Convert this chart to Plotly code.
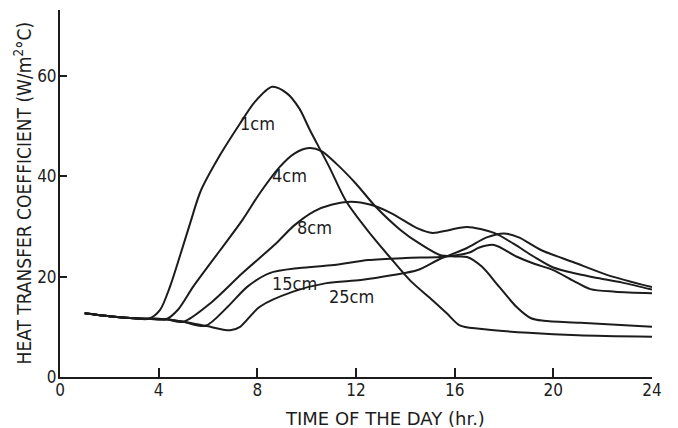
import plotly.graph_objects as go

# ---- data ----
x_1cm = [1.0, 2.0, 3.0, 3.6, 4.05, 4.46, 4.9, 5.3, 5.7, 6.5, 7.3, 7.9, 8.6, 9.2, 9.7, 10.13, 10.9, 11.6, 12.5, 13.4, 14.2, 15.1, 15.7, 16.2, 17.0, 19.0, 21.0, 24.0]
y_1cm = [12.7, 12.1, 11.7, 11.6, 13.3, 18.0, 24.7, 31.0, 37.0, 44.3, 50.5, 54.8, 57.8, 56.5, 53.5, 49.2, 42.0, 35.0, 29.0, 23.7, 19.2, 15.3, 12.6, 10.3, 9.6, 8.8, 8.3, 8.0]

x_4cm = [1.0, 2.0, 3.0, 3.6, 4.3, 4.8, 5.4, 6.5, 7.4, 8.1, 8.9, 9.5, 10.1, 10.6, 11.2, 12.0, 12.8, 13.8, 14.6, 15.4, 16.0, 16.5, 17.1, 17.8, 18.5, 19.1, 19.6, 21.1, 24.0]
y_4cm = [12.7, 12.1, 11.7, 11.6, 11.5, 13.5, 18.0, 25.3, 31.3, 36.6, 41.8, 44.5, 45.6, 45.0, 42.5, 38.5, 33.9, 29.3, 26.5, 24.3, 24.0, 23.9, 22.0, 18.0, 14.0, 11.7, 11.2, 10.8, 10.0]

x_8cm = [1.0, 2.0, 3.0, 3.6, 4.3, 5.0, 6.1, 7.4, 8.8, 9.45, 10.3, 11.0, 11.8, 12.6, 13.4, 14.5, 15.1, 15.8, 16.5, 17.6, 18.4, 19.2, 20.0, 21.0, 21.8, 22.8, 24.0]
y_8cm = [12.7, 12.1, 11.7, 11.6, 11.5, 11.0, 14.7, 20.7, 26.8, 30.0, 33.0, 34.3, 34.9, 34.3, 32.7, 29.6, 28.7, 29.3, 29.9, 28.7, 26.5, 24.0, 21.8, 20.5, 19.7, 18.8, 17.4]

x_15cm = [1.0, 2.0, 3.0, 3.6, 4.3, 5.0, 5.9, 6.8, 7.6, 8.5, 9.7, 11.1, 12.5, 14.0, 15.4, 16.0, 16.6, 17.0, 17.6, 18.5, 19.2, 20.0, 20.8, 21.5, 22.5, 24.0]
y_15cm = [12.7, 12.1, 11.7, 11.6, 11.5, 11.0, 10.2, 14.0, 18.0, 20.7, 21.7, 22.3, 23.3, 23.7, 23.9, 24.2, 24.8, 25.8, 26.3, 24.0, 22.6, 21.3, 19.2, 17.5, 17.0, 16.7]

x_25cm = [1.0, 2.0, 3.0, 3.6, 4.3, 5.0, 5.9, 6.9, 7.3, 8.1, 9.45, 10.8, 12.2, 13.5, 14.5, 15.4, 16.5, 17.3, 18.0, 18.6, 19.5, 20.8, 22.2, 24.0]
y_25cm = [12.7, 12.1, 11.7, 11.6, 11.5, 11.0, 10.2, 9.3, 10.0, 14.0, 17.0, 18.7, 19.3, 20.3, 21.3, 23.5, 25.7, 27.8, 28.6, 27.8, 25.3, 22.9, 20.3, 17.9]

series_names = ["1cm", "4cm", "8cm", "15cm", "25cm"]
label_x = [8.0, 9.3, 10.3, 9.5, 11.8]
label_y = [50.5, 40.2, 29.7, 18.7, 16.0]

x_ticks = [0, 4, 8, 12, 16, 20, 24]
y_ticks = [0, 20, 40, 60]

INK = "#1c1c1c"
FONT = "DejaVu Sans Condensed, Liberation Sans Narrow, sans-serif"
WIDE = "DejaVu Sans, sans-serif"

fig = go.Figure()
for xs, ys, nm in zip([x_1cm, x_4cm, x_8cm, x_15cm, x_25cm],
                      [y_1cm, y_4cm, y_8cm, y_15cm, y_25cm], series_names):
    fig.add_trace(go.Scatter(x=xs, y=ys, mode="lines", name=nm,
                             line=dict(color=INK, width=2, shape="spline", smoothing=0.8),
                             showlegend=False, hoverinfo="skip"))

for nm, lx, ly in zip(series_names, label_x, label_y):
    fig.add_annotation(x=lx, y=ly, text=nm, showarrow=False,
                       font=dict(family=FONT, size=18, color=INK))

fig.add_annotation(xref="paper", yref="paper", x=0.549, y=-0.112, yanchor="middle",
                   text="TIME OF THE DAY (hr.)", showarrow=False,
                   font=dict(family=WIDE, size=18, color=INK))
fig.add_annotation(xref="paper", yref="paper", x=-0.062, y=0.501, xanchor="center",
                   yanchor="middle", textangle=-90,
                   text="HEAT TRANSFER COEFFICIENT (W/m<sup>2</sup>°C)", showarrow=False,
                   font=dict(family=FONT, size=19, color=INK))

fig.update_xaxes(range=[0, 24], tickvals=x_ticks, ticks="inside", ticklen=9, tickwidth=2,
                 tickcolor=INK, showline=True, linecolor=INK, linewidth=2, showgrid=False,
                 zeroline=False, automargin=False, ticklabelstandoff=-3,
                 tickfont=dict(family=FONT, size=17, color=INK))
fig.update_yaxes(range=[0, 73.1], tickvals=y_ticks, ticks="inside", ticklen=7, tickwidth=2,
                 tickcolor=INK, showline=True, linecolor=INK, linewidth=2, showgrid=False,
                 zeroline=False, automargin=False, ticklabelstandoff=-2,
                 tickfont=dict(family=FONT, size=17, color=INK))

# page is shown with an 8px body margin, so margins are offset by 8px
fig.update_layout(width=678, height=428, margin=dict(l=52, r=34, t=2, b=59),
                  paper_bgcolor="white", plot_bgcolor="white")

fig.write_html("out.html")
